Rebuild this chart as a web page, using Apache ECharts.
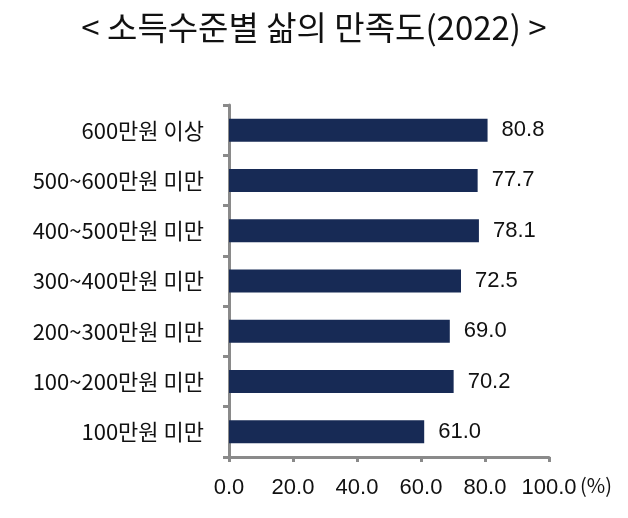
<!DOCTYPE html>
<html><head><meta charset="utf-8">
<script src="https://cdn.jsdelivr.net/npm/echarts@6/dist/echarts.min.js"></script>
<style>html,body{margin:0;padding:0;background:#fff}#c{width:628px;height:518px}</style>
</head><body><div id="c"></div>
<script>
const title = '< 소득수준별 삶의 만족도(2022) >';
const categories = ['100만원 미만','100~200만원 미만','200~300만원 미만','300~400만원 미만','400~500만원 미만','500~600만원 미만','600만원 이상'];
const values = [61.0, 70.2, 69.0, 72.5, 78.1, 77.7, 80.8];
const xTicks = [0, 20, 40, 60, 80, 100];
const unitLabel = '(%)';

const chart = echarts.init(document.getElementById('c'), null, {renderer:'canvas'});
const fontK = '"Noto Sans CJK KR", "Noto Sans", sans-serif';
const fontN = '"Liberation Sans", Arial, sans-serif';
chart.setOption({
  animation:false,
  backgroundColor:'#fff',
  title:{text:title,left:'center',top:6,textStyle:{fontFamily:fontK,fontSize:33,fontWeight:'normal',color:'#111'}},
  grid:{left:229,right:79,top:105,bottom:61,containLabel:false},
  xAxis:{type:'value',min:xTicks[0],max:xTicks[xTicks.length-1],interval:20,
    axisLine:{show:true,lineStyle:{color:'#8a8a8a',width:3}},
    axisTick:{show:true,length:5,lineStyle:{color:'#8a8a8a',width:3}},
    splitLine:{show:false},
    axisLabel:{margin:20,fontFamily:fontN,fontSize:22,color:'#111',formatter:v=>v.toFixed(1)}},
  yAxis:{type:'category',data:categories,
    axisLine:{show:true,lineStyle:{color:'#8a8a8a',width:3}},
    axisTick:{show:true,length:6,lineStyle:{color:'#8a8a8a',width:3}},
    axisLabel:{margin:25,fontFamily:fontK,fontSize:22,color:'#111'}},
  series:[{type:'bar',data:values,barWidth:23,itemStyle:{color:'#172a55'},
    label:{show:true,position:'right',distance:14,fontFamily:fontN,fontSize:22,color:'#111',formatter:p=>p.value.toFixed(1)}}],
  graphic:[{type:'text',left:580,top:475,style:{text:unitLabel,fontFamily:fontK,fontSize:20,fill:'#111'}}]
});
</script></body></html>
